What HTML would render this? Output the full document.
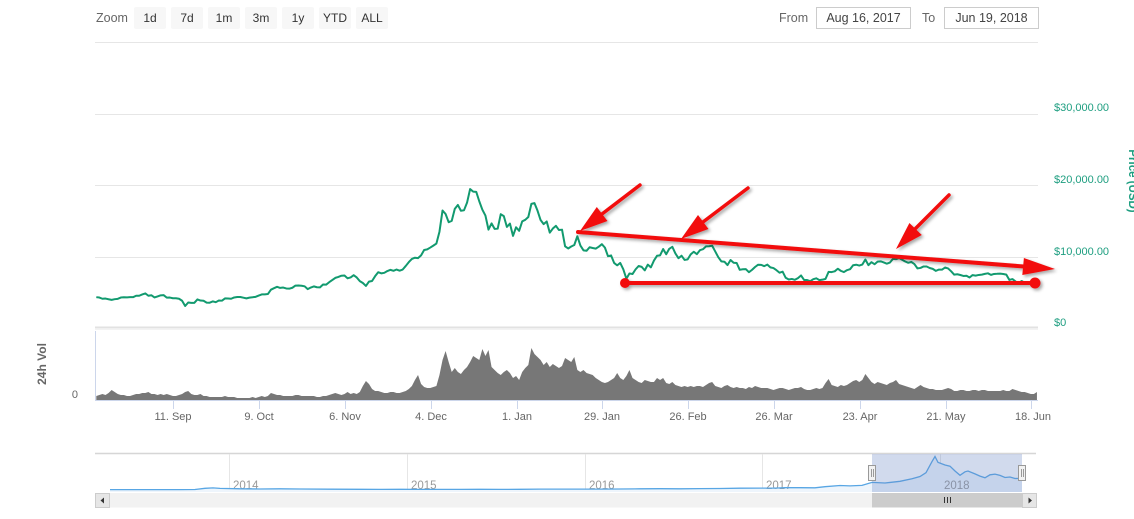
<!DOCTYPE html>
<html><head><meta charset="utf-8">
<style>
html,body{margin:0;padding:0;background:#fff;}
svg{display:block;font-family:"Liberation Sans",Arial,sans-serif;}
</style></head>
<body>
<svg width="1134" height="519" viewBox="0 0 1134 519" xmlns="http://www.w3.org/2000/svg">
<defs>
<clipPath id="plot"><rect x="95" y="30" width="943" height="380"/></clipPath>
<filter id="sh" x="-20%" y="-20%" width="140%" height="140%">
<feDropShadow dx="2" dy="2" stdDeviation="1.5" flood-color="#000" flood-opacity="0.35"/>
</filter>
</defs>

<!-- top controls -->
<text x="96" y="22" font-size="12.5" fill="#666">Zoom</text>
<g font-size="12" fill="#333" text-anchor="middle">
<rect x="134" y="7" width="32" height="22" rx="2" fill="#f7f7f7"/><text x="150" y="22">1d</text>
<rect x="171" y="7" width="32" height="22" rx="2" fill="#f7f7f7"/><text x="187" y="22">7d</text>
<rect x="208" y="7" width="32" height="22" rx="2" fill="#f7f7f7"/><text x="224" y="22">1m</text>
<rect x="245" y="7" width="32" height="22" rx="2" fill="#f7f7f7"/><text x="261" y="22">3m</text>
<rect x="282" y="7" width="32" height="22" rx="2" fill="#f7f7f7"/><text x="298" y="22">1y</text>
<rect x="319" y="7" width="32" height="22" rx="2" fill="#f7f7f7"/><text x="335" y="22">YTD</text>
<rect x="356" y="7" width="32" height="22" rx="2" fill="#f7f7f7"/><text x="372" y="22">ALL</text>
</g>
<text x="779" y="22" font-size="12.5" fill="#666">From</text>
<rect x="816.5" y="7.5" width="94" height="21" fill="#fff" stroke="#ccc"/>
<text x="863.5" y="22" font-size="12.5" fill="#444" text-anchor="middle">Aug 16, 2017</text>
<text x="922" y="22" font-size="12.5" fill="#666">To</text>
<rect x="944.5" y="7.5" width="94" height="21" fill="#fff" stroke="#ccc"/>
<text x="991.5" y="22" font-size="12.5" fill="#444" text-anchor="middle">Jun 19, 2018</text>

<!-- price gridlines -->
<g stroke="#e6e6e6" stroke-width="1">
<line x1="95" y1="42.5" x2="1038" y2="42.5"/>
<line x1="95" y1="114.5" x2="1038" y2="114.5"/>
<line x1="95" y1="185.5" x2="1038" y2="185.5"/>
<line x1="95" y1="257.5" x2="1038" y2="257.5"/>
</g>
<line x1="95" y1="327.5" x2="1038" y2="327.5" stroke="#e2e2e2" stroke-width="2"/>
<line x1="95" y1="329.5" x2="1038" y2="329.5" stroke="#f3f3f3" stroke-width="1"/>

<!-- price y labels -->
<g font-size="11" fill="#1e9e80">
<text x="1054" y="111">$30,000.00</text>
<text x="1054" y="183">$20,000.00</text>
<text x="1054" y="255">$10,000.00</text>
<text x="1054" y="326">$0</text>
</g>
<text transform="translate(1129,181) rotate(90)" font-size="11.5" font-weight="bold" fill="#1e9e80" text-anchor="middle">Price (USD)</text>

<!-- volume pane axes -->
<line x1="95.5" y1="331" x2="95.5" y2="400" stroke="#ccd6eb"/>
<line x1="95" y1="400.5" x2="1038" y2="400.5" stroke="#ccd6eb"/>
<g stroke="#ccd6eb">
<line x1="173.5" y1="400" x2="173.5" y2="409"/>
<line x1="259.5" y1="400" x2="259.5" y2="409"/>
<line x1="345.5" y1="400" x2="345.5" y2="409"/>
<line x1="431.5" y1="400" x2="431.5" y2="409"/>
<line x1="517.5" y1="400" x2="517.5" y2="409"/>
<line x1="602.5" y1="400" x2="602.5" y2="409"/>
<line x1="688.5" y1="400" x2="688.5" y2="409"/>
<line x1="774.5" y1="400" x2="774.5" y2="409"/>
<line x1="860.5" y1="400" x2="860.5" y2="409"/>
<line x1="946.5" y1="400" x2="946.5" y2="409"/>
<line x1="1031.5" y1="400" x2="1031.5" y2="409"/>
</g>
<g font-size="11" fill="#666" text-anchor="middle">
<text x="173" y="420">11. Sep</text>
<text x="259" y="420">9. Oct</text>
<text x="345" y="420">6. Nov</text>
<text x="431" y="420">4. Dec</text>
<text x="517" y="420">1. Jan</text>
<text x="602" y="420">29. Jan</text>
<text x="688" y="420">26. Feb</text>
<text x="774" y="420">26. Mar</text>
<text x="860" y="420">23. Apr</text>
<text x="946" y="420">21. May</text>
<text x="1033" y="420">18. Jun</text>
</g>
<text x="78" y="398" font-size="11" fill="#666" text-anchor="end">0</text>
<text transform="translate(46,364) rotate(-90)" font-size="12" font-weight="bold" fill="#666" text-anchor="middle">24h Vol</text>

<g clip-path="url(#plot)">
<!-- volume -->
<polygon fill="#777" transform="translate(96.3,400) scale(3.064,-1)" points="0,0 0,4 1,5 2,6 3,5 4,7 5,10 6,8 7,6 8,5 9,5 10,4 11,4 12,5 13,6 14,6 15,7 16,7 17,8 18,6 19,6 20,5 21,6 22,5 23,6 24,5 25,4 26,4 27,5 28,6 29,8 30,9 31,6 32,5 33,5 34,6 35,4 36,4 37,3 38,3 39,3 40,3 41,3 42,4 43,3 44,3 45,3 46,2 47,2 48,2 49,2 50,2 51,3 52,2 53,3 54,4 55,3 56,4 57,7 58,6 59,5 60,5 61,4 62,4 63,4 64,4 65,5 66,5 67,4 68,4 69,4 70,4 71,4 72,3 73,3 74,4 75,4 76,5 77,6 78,7 79,6 80,5 81,6 82,8 83,6 84,7 85,6 86,8 87,14 88,19 89,16 90,11 91,9 92,9 93,8 94,7 95,7 96,8 97,8 98,7 99,7 100,8 101,9 102,11 103,14 104,20 105,25 106,16 107,13 108,12 109,12 110,13 111,14 112,25 113,40 114,49 115,38 116,28 117,32 118,28 119,26 120,30 121,33 122,38 123,44 124,42 125,40 126,51 127,44 128,50 129,33 130,30 131,27 132,25 133,28 134,30 135,27 136,22 137,24 138,20 139,28 140,32 141,35 142,52 143,46 144,43 145,40 146,35 147,38 148,33 149,36 150,34 151,32 152,34 153,42 154,40 155,38 156,43 157,30 158,28 159,30 160,27 161,26 162,25 163,22 164,20 165,18 166,17 167,18 168,20 169,22 170,27 171,22 172,20 173,24 174,30 175,22 176,20 177,18 178,17 179,20 180,19 181,18 182,18 183,22 184,20 185,22 186,17 187,16 188,18 189,15 190,14 191,13 192,14 193,13 194,14 195,13 196,14 197,14 198,13 199,15 200,17 201,18 202,14 203,13 204,12 205,14 206,15 207,13 208,12 209,13 210,12 211,12 212,11 213,13 214,12 215,14 216,13 217,12 218,12 219,12 220,11 221,10 222,11 223,12 224,12 225,11 226,10 227,11 228,12 229,12 230,13 231,11 232,10 233,10 234,11 235,12 236,11 237,12 238,17 239,21 240,15 241,14 242,13 243,15 244,14 245,15 246,17 247,19 248,20 249,18 250,20 251,26 252,22 253,18 254,16 255,18 256,17 257,16 258,15 259,17 260,18 261,20 262,16 263,15 264,14 265,13 266,12 267,11 268,13 269,15 270,13 271,12 272,11 273,11 274,10 275,10 276,10 277,11 278,12 279,11 280,9 281,9 282,10 283,10 284,9 285,9 286,10 287,10 288,9 289,10 290,10 291,9 292,9 293,9 294,9 295,9 296,10 297,9 298,9 299,11 300,10 301,9 302,8 303,8 304,7 305,6 306,6 307,8 307,0"/>
<!-- price -->
<polyline fill="none" stroke="#129a6f" stroke-width="2" stroke-linejoin="round" vector-effect="non-scaling-stroke" transform="translate(96.3,328.5) scale(3.064,-7.15)" points="0,4.38 1,4.33 2,4.16 3,4.19 4,4.09 5,4.00 6,4.10 7,4.15 8,4.33 9,4.37 10,4.35 11,4.38 12,4.38 13,4.58 14,4.58 15,4.76 16,4.91 17,4.58 18,4.65 19,4.34 20,4.49 21,4.64 22,4.66 23,4.32 24,4.33 25,4.23 26,4.23 27,4.16 28,3.88 29,3.15 30,3.64 31,3.58 32,3.59 33,4.07 34,3.91 35,3.88 36,3.62 37,3.61 38,3.79 39,3.68 40,3.92 41,3.89 42,4.21 43,4.19 44,4.16 45,4.34 46,4.40 47,4.41 48,4.31 49,4.21 50,4.32 51,4.37 52,4.43 53,4.61 54,4.77 55,4.78 56,4.82 57,5.43 58,5.64 59,5.83 60,5.68 61,5.73 62,5.60 63,5.57 64,5.70 65,6.00 66,6.01 67,5.98 68,5.90 69,5.51 70,5.73 71,5.89 72,5.77 73,5.75 74,6.15 75,6.13 76,6.47 77,6.77 78,7.08 79,7.21 80,7.38 81,7.41 82,7.02 83,7.14 84,7.46 85,7.14 86,6.62 87,6.36 88,5.95 89,6.56 90,6.64 91,7.32 92,7.87 93,7.71 94,7.79 95,8.04 96,8.20 97,8.07 98,8.25 99,8.09 100,8.25 101,8.75 102,9.29 103,9.73 104,9.90 105,9.84 106,10.23 107,10.98 108,11.07 109,11.32 110,11.59 111,11.88 112,13.54 113,16.50 114,16.01 115,14.87 116,15.06 117,16.73 118,17.28 119,16.47 120,16.53 121,17.60 122,19.50 123,19.14 124,19.11 125,17.78 126,16.62 127,15.80 128,13.83 129,14.70 130,13.93 131,13.96 132,15.99 133,15.72 134,14.21 135,14.67 136,12.95 137,14.16 138,13.66 139,14.98 140,15.20 141,15.60 142,17.43 143,17.53 144,16.48 145,15.17 146,14.60 147,14.97 148,13.41 149,13.98 150,14.36 151,13.77 152,13.82 153,11.49 154,11.19 155,11.47 156,11.68 157,12.90 158,11.60 159,10.93 160,10.87 161,11.36 162,11.26 163,11.17 164,11.44 165,11.79 166,11.31 167,10.11 168,10.22 169,9.17 170,8.83 171,9.17 172,8.28 173,6.96 174,7.70 175,7.62 176,8.27 177,8.74 178,8.62 179,8.13 180,8.93 181,8.55 182,9.50 183,10.17 184,10.23 185,11.11 186,10.38 187,11.15 188,11.43 189,10.50 190,9.83 191,10.18 192,9.59 193,9.67 194,10.37 195,10.73 196,10.40 197,10.95 198,11.09 199,11.49 200,11.51 201,11.57 202,10.78 203,9.97 204,9.39 205,9.34 206,8.87 207,9.58 208,9.20 209,9.16 210,8.21 211,8.29 212,8.30 213,7.87 214,8.20 215,8.60 216,8.92 217,8.90 218,8.72 219,8.94 220,8.55 221,8.45 222,8.15 223,7.80 224,7.95 225,7.09 226,6.85 227,6.93 228,6.81 229,7.05 230,7.42 231,6.79 232,6.78 233,6.62 234,6.90 235,7.02 236,6.77 237,6.83 238,6.94 239,7.92 240,7.89 241,8.00 242,8.36 243,8.06 244,7.89 245,8.16 246,8.29 247,8.85 248,8.92 249,8.80 250,8.94 251,9.65 252,8.86 253,9.28 254,8.99 255,9.35 256,9.39 257,9.24 258,9.07 259,9.22 260,9.74 261,9.70 262,9.86 263,9.62 264,9.37 265,9.19 266,9.31 267,9.01 268,8.41 269,8.47 270,8.68 271,8.67 272,8.46 273,8.34 274,8.06 275,8.24 276,8.23 277,8.53 278,8.40 279,8.00 280,7.53 281,7.59 282,7.48 283,7.35 284,7.37 285,7.13 286,7.47 287,7.40 288,7.49 289,7.54 290,7.64 291,7.72 292,7.50 293,7.63 294,7.65 295,7.68 296,7.62 297,7.53 298,6.79 299,6.91 300,6.58 301,6.35 302,6.64 303,6.40 304,6.50 305,6.45 306,6.71 307,6.74"/>
</g>

<!-- red annotations -->
<g filter="url(#sh)" fill="#f21010" stroke="#f21010" stroke-linecap="round">
<line x1="578" y1="232" x2="1024" y2="266.5" stroke-width="4"/>
<polygon stroke="none" points="1055,269 1022.3,275 1023.9,258"/>
<line x1="625" y1="283" x2="1035" y2="283" stroke-width="4"/>
<circle cx="625" cy="283" r="5" stroke="none"/>
<circle cx="1035" cy="283" r="5.5" stroke="none"/>
<line x1="640" y1="185" x2="602" y2="214" stroke-width="3.5"/>
<polygon stroke="none" points="580,231 607.5,221 596.8,207"/>
<line x1="748" y1="188" x2="703" y2="222" stroke-width="3.5"/>
<polygon stroke="none" points="681,239 708.5,229 698,215"/>
<line x1="949" y1="195" x2="915" y2="229" stroke-width="3.5"/>
<polygon stroke="none" points="896,249 921.8,235 909.4,223"/>
</g>

<!-- navigator -->
<line x1="95" y1="453.5" x2="1036" y2="453.5" stroke="#d6d6d6" stroke-width="1.5"/>
<g stroke="#e6e6e6">
<line x1="229.5" y1="454" x2="229.5" y2="492"/>
<line x1="407.5" y1="454" x2="407.5" y2="492"/>
<line x1="585.5" y1="454" x2="585.5" y2="492"/>
<line x1="762.5" y1="454" x2="762.5" y2="492"/>
<line x1="940.5" y1="454" x2="940.5" y2="492"/>
</g>
<polygon fill="#eef5fc" points="110,492 110,489.6 180,489.6 195,489.5 205,488.3 213,487.9 220,488.4 240,488.8 260,489.0 280,488.8 300,489.0 330,489.2 360,489.3 380,489.4 400,489.3 420,489.4 440,489.4 460,489.4 480,489.3 500,489.4 520,489.3 540,489.1 560,489.1 580,489.1 600,489.1 620,489.0 640,488.8 660,488.7 680,488.8 700,488.6 720,488.5 740,488.2 760,488.1 775,488.1 785,487.7 800,487.7 815,487.8 825,486.7 840,485.5 850,485.9 862,485.4 872,482.4 885,483.0 900,481.3 912,478.7 920,476.5 926,472.7 932,461.6 935,456.5 938,462.4 945,465.0 950,466.2 955,471.0 960,475.3 965,471.8 968,471.0 975,473.9 980,476.1 985,477.8 990,474.8 995,474.1 1000,475.4 1005,477.5 1010,477.0 1015,478.5 1022,478.3 1022,492"/>
<g font-size="11.5" fill="#999">
<text x="233" y="489">2014</text>
<text x="411" y="489">2015</text>
<text x="589" y="489">2016</text>
<text x="766" y="489">2017</text>
<text x="944" y="489">2018</text>
</g>
<polyline fill="none" stroke="#58a6e4" stroke-width="1.3" points="110,489.6 180,489.6 195,489.5 205,488.3 213,487.9 220,488.4 240,488.8 260,489.0 280,488.8 300,489.0 330,489.2 360,489.3 380,489.4 400,489.3 420,489.4 440,489.4 460,489.4 480,489.3 500,489.4 520,489.3 540,489.1 560,489.1 580,489.1 600,489.1 620,489.0 640,488.8 660,488.7 680,488.8 700,488.6 720,488.5 740,488.2 760,488.1 775,488.1 785,487.7 800,487.7 815,487.8 825,486.7 840,485.5 850,485.9 862,485.4 872,482.4 885,483.0 900,481.3 912,478.7 920,476.5 926,472.7 932,461.6 935,456.5 938,462.4 945,465.0 950,466.2 955,471.0 960,475.3 965,471.8 968,471.0 975,473.9 980,476.1 985,477.8 990,474.8 995,474.1 1000,475.4 1005,477.5 1010,477.0 1015,478.5 1022,478.3"/>
<rect x="872" y="454" width="150" height="38" fill="rgba(102,133,194,0.3)"/>
<!-- handles -->
<g fill="#f2f2f2" stroke="#999">
<rect x="868.5" y="465.5" width="7" height="15"/>
<rect x="1018.5" y="465.5" width="7" height="15"/>
</g>
<g stroke="#999">
<line x1="871.5" y1="469" x2="871.5" y2="477"/><line x1="873.5" y1="469" x2="873.5" y2="477"/>
<line x1="1021.5" y1="469" x2="1021.5" y2="477"/><line x1="1023.5" y1="469" x2="1023.5" y2="477"/>
</g>
<!-- scrollbar -->
<rect x="95" y="493" width="942" height="14.5" fill="#f2f2f2"/>
<rect x="95.5" y="493.5" width="14" height="14" fill="#e6e6e6" stroke="#ccc"/>
<polygon points="100.5,500.5 104,497.5 104,503.5" fill="#333"/>
<rect x="872" y="493" width="150" height="14.5" fill="#ccc"/>
<g stroke="#333"><line x1="944.5" y1="497" x2="944.5" y2="503"/><line x1="947.5" y1="497" x2="947.5" y2="503"/><line x1="950.5" y1="497" x2="950.5" y2="503"/></g>
<rect x="1022.5" y="493.5" width="14" height="14" fill="#e6e6e6" stroke="#ccc"/>
<polygon points="1032,500.5 1028.5,497.5 1028.5,503.5" fill="#333"/>
</svg>
</body></html>
